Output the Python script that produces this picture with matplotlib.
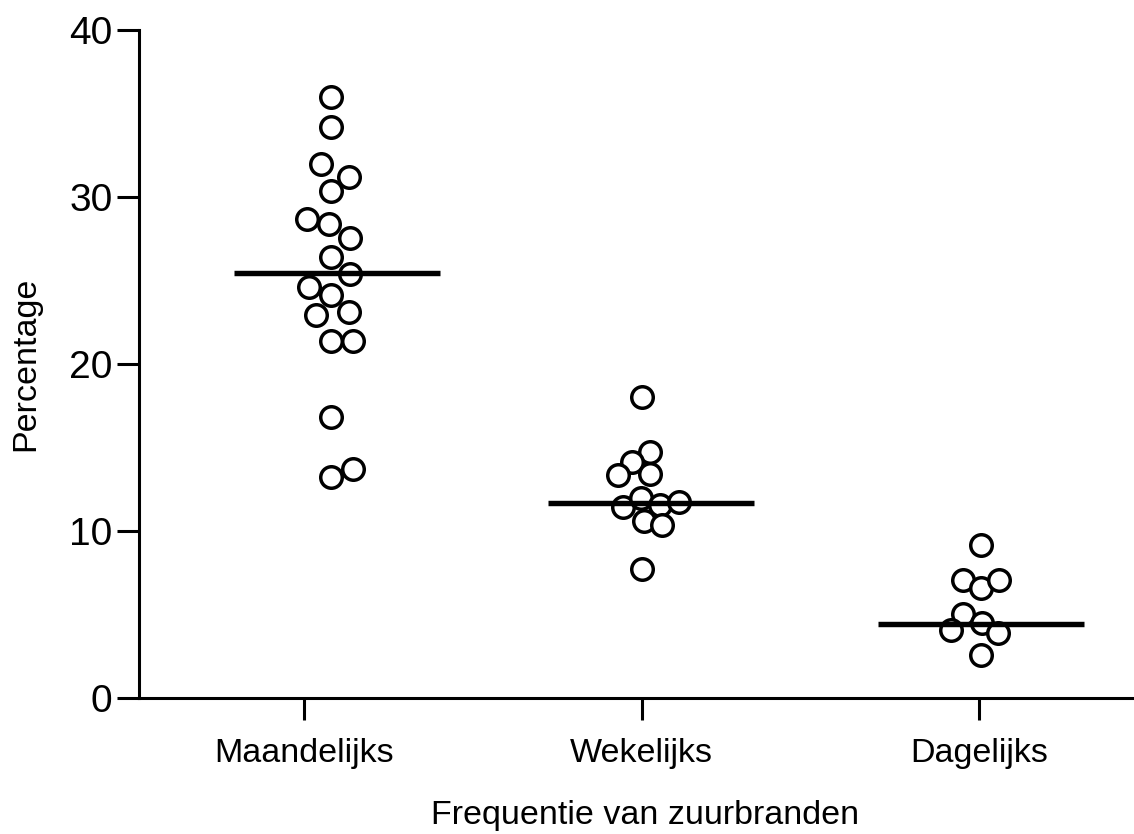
import numpy as np
import matplotlib.pyplot as plt

plt.rcParams['font.family'] = ['Liberation Sans', 'DejaVu Sans']

# Data
categories = ['Maandelijks', 'Wekelijks', 'Dagelijks']

maand_y = [36.0, 34.17, 31.98, 31.22, 30.38, 28.68, 28.38, 27.53, 26.39, 25.39,
           24.59, 24.13, 22.93, 23.13, 21.4, 21.4, 16.81, 13.25, 13.69]
maand_dx = [0.08, 0.08, 0.05, 0.133, 0.08, 0.009, 0.074, 0.136, 0.08, 0.136,
            0.015, 0.08, 0.036, 0.133, 0.08, 0.145, 0.08, 0.08, 0.145]

week_y = [18.04, 14.75, 14.15, 13.35, 13.4, 11.42, 11.95, 11.56, 11.72, 10.62,
          10.36, 7.7]
week_dx = [0.002, 0.026, -0.028, -0.07, 0.026, -0.055, -0.001, 0.055, 0.11,
           0.007, 0.061, 0.002]

dag_y = [9.16, 7.07, 6.57, 7.07, 5.03, 4.07, 4.51, 3.87, 2.57]
dag_dx = [0.005, -0.047, 0.006, 0.059, -0.047, -0.083, 0.008, 0.057, 0.006]

# centre lines as drawn
line_y = [25.45, 11.68, 4.43]
line_dx = [0.097, 0.027, 0.006]

groups_y = [maand_y, week_y, dag_y]
groups_dx = [maand_dx, week_dx, dag_dx]

fig = plt.figure(figsize=(11.34, 8.34), dpi=100)
# axes runs a little past the right edge, as in the reference
ax = fig.add_axes([139 / 1134, 1 - 698 / 834, (1151 - 139) / 1134, (698 - 30) / 834])

for i in range(len(categories)):
    xs = i + np.array(groups_dx[i])
    ax.plot(xs, groups_y[i], 'o', markersize=15.5, markerfacecolor='white',
            markeredgecolor='black', markeredgewidth=2.5, linestyle='none',
            zorder=3)
    c = i + line_dx[i]
    ax.plot([c - 0.305, c + 0.305], [line_y[i], line_y[i]], color='black',
            linewidth=3.9, solid_capstyle='butt', zorder=4)

ax.set_xlim(-0.49, 2.51)
ax.set_ylim(0, 40)
ax.set_yticks([0, 10, 20, 30, 40])
ax.set_xticks(range(len(categories)))
ax.set_xticklabels(categories)

for s in ['top', 'right']:
    ax.spines[s].set_visible(False)
for s in ['left', 'bottom']:
    ax.spines[s].set_linewidth(2.2)

ax.tick_params(axis='both', direction='out', length=16, width=2.2,
               colors='black')
ax.tick_params(axis='y', pad=3, labelsize=28)
ax.tick_params(axis='x', pad=13, labelsize=24.5)

ax.set_xlabel('Frequentie van zuurbranden', fontsize=24.5, labelpad=22)
ax.set_ylabel('Percentage', fontsize=24.5, labelpad=20)

fig.savefig('out.png', dpi=100)
